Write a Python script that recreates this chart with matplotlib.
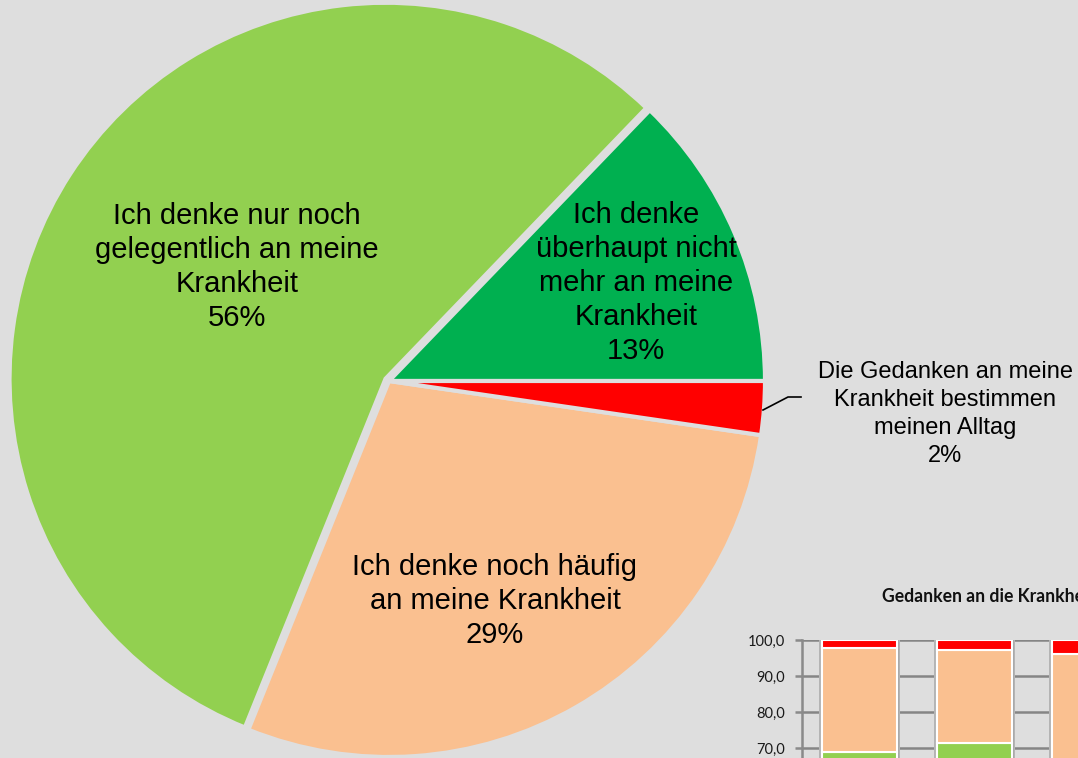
import matplotlib
matplotlib.use("Agg")
import matplotlib.pyplot as plt
import numpy as np

# ---------------- data ----------------
pie_labels = [
    "Ich denke\nüberhaupt nicht\nmehr an meine\nKrankheit",
    "Ich denke nur noch\ngelegentlich an meine\nKrankheit",
    "Ich denke noch häufig\nan meine Krankheit",
    "Die Gedanken an meine\nKrankheit bestimmen\nmeinen Alltag",
]
pie_values = [12.8, 56.1, 28.8, 2.3]
pie_pct = ["13%", "56%", "29%", "2%"]
pie_colors = ["#00B050", "#92D050", "#FAC090", "#FF0000"]

bar_title = "Gedanken an die Krankheit"
bar_categories = ["A", "B", "C"]
bar_dark_green = [12.8, 15.0, 14.0]
bar_light_green = [56.1, 56.5, 52.0]
bar_orange = [28.8, 25.8, 30.0]
bar_red = [2.3, 2.7, 4.0]
bar_yticks = [70.0, 80.0, 90.0, 100.0]

BG = "#DEDEDE"
W, H = 1078, 758

fig = plt.figure(figsize=(W / 100, H / 100), dpi=100, facecolor=BG)

# ---------------- pie ----------------
cx, cy, R, S = 389, 381, 376, 420
ax = fig.add_axes([(cx - S) / W, 1 - (cy + S) / H, 2 * S / W, 2 * S / H])
ax.set_facecolor("none")
explode = [0, 0.011, 0, 0]
wedges, _ = ax.pie(pie_values, colors=pie_colors, startangle=0, counterclock=True,
                   explode=explode, radius=1.0,
                   wedgeprops=dict(edgecolor=BG, linewidth=3))
for w in wedges:
    w.set_clip_on(False)
lim = S / R
ax.set_xlim(-lim, lim)
ax.set_ylim(-lim, lim)
ax.set_aspect("auto")
ax.axis("off")

def px(x, y):
    return (x - cx) / R, (cy - y) / R

font = "Liberation Sans"
big = 21
txt_pos = [(636, 283), (237, 267), (495, 601)]
for i, (x, y) in enumerate(txt_pos):
    ax.text(*px(x, y), pie_labels[i] + "\n" + pie_pct[i], ha="center", va="center",
            fontsize=big, family=font, linespacing=1.27, color="black")

# small label for the red slice, with leader line
ax.text(*px(945, 414), pie_labels[3] + "\n" + pie_pct[3], ha="center", va="center",
        fontsize=17, family=font, linespacing=1.34, color="black")
ax.plot(*zip(px(763, 410), px(788, 397), px(801, 397)), color="black", lw=1.2,
        clip_on=False)

# ---------------- inset stacked bar chart ----------------
left_px, top_px, zero_px = 802, 640, 1000
ncat = len(bar_categories)
cat_w = 115
bax = fig.add_axes([left_px / W, 1 - zero_px / H, ncat * cat_w / W, (zero_px - top_px) / H])
bax.set_facecolor("none")
x = np.arange(ncat)
bw = 75 / cat_w
totals = (np.array(bar_dark_green) + np.array(bar_light_green)
          + np.array(bar_orange) + np.array(bar_red))
# soft shadow behind each bar
bax.bar(x, totals, bw + 6 / cat_w, color="#b4b4b4", linewidth=0, zorder=2)
bax.bar(x, totals, bw + 3 / cat_w, color="#a6a6a6", linewidth=0, zorder=2)
bottom = np.zeros(ncat)
for vals, col in [(bar_dark_green, "#00B050"), (bar_light_green, "#92D050"),
                  (bar_orange, "#FAC090"), (bar_red, "#FF0000")]:
    bax.bar(x, vals, bw, bottom=bottom, color=col, edgecolor="white", linewidth=1.5,
            zorder=3)
    bottom += np.array(vals)
bax.set_xlim(-0.5, ncat - 0.5)
bax.set_ylim(0, 100)
bax.set_yticks(bar_yticks)
bax.set_yticklabels([f"{v:.1f}".replace(".", ",") for v in bar_yticks],
                    fontsize=10.5, family="Lato", color="#1a1a1a")
bax.tick_params(axis="y", length=5, width=1.8, color="#8a8a8a", pad=7)
bax.set_xticks([])
for v in bar_yticks:
    bax.axhline(v, color="#858585", lw=1.8, zorder=1)
for s in ["top", "right", "bottom"]:
    bax.spines[s].set_visible(False)
bax.spines["left"].set_color("#8a8a8a")
bax.spines["left"].set_linewidth(1.8)

fig.text(882 / W, 1 - 597 / H, bar_title, fontsize=12.7, family="Lato",
         fontweight="bold", ha="left", va="center", color="#111111")

fig.savefig("out.png", dpi=100, facecolor=BG)
